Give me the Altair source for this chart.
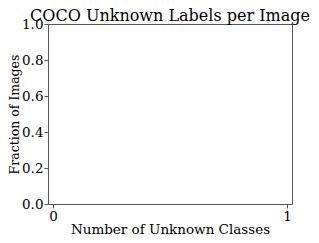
import altair as alt
import pandas as pd

title = "COCO Unknown Labels per Image"
x_title = "Number of Unknown Classes"
y_title = "Fraction of Images"
x_ticks = [0, 1]
y_ticks = [0.0, 0.2, 0.4, 0.6, 0.8, 1.0]
counts = []
fractions = []

df = pd.DataFrame({"n": pd.Series(counts, dtype=float), "f": pd.Series(fractions, dtype=float)})

font = "DejaVu Serif"

chart = alt.Chart(df).mark_bar(color="#1f77b4").encode(
    x=alt.X("n:Q", scale=alt.Scale(domain=[0, 1], nice=False, zero=False),
            axis=alt.Axis(title=x_title, values=x_ticks, format="d", grid=False,
                          labelFontSize=13.5, titleFontSize=13.5, titleFontWeight="normal",
                          labelFont=font, titleFont=font, tickSize=4, labelPadding=1,
                          titlePadding=0, domainColor="#555", tickColor="#555",
                          labelColor="black", titleColor="black", labelFlush=False)),
    y=alt.Y("f:Q", scale=alt.Scale(domain=[0, 1], nice=False),
            axis=alt.Axis(title=y_title, values=y_ticks, format=".1f", grid=False,
                          labelFontSize=13.5, titleFontSize=12.5, titleFontWeight="normal",
                          labelFont=font, titleFont=font, tickSize=4, labelPadding=1,
                          titlePadding=0, domainColor="#555", tickColor="#555",
                          labelColor="black", titleColor="black", labelFlush=False)),
).properties(
    width=244, height=180,
    title=alt.TitleParams(title, font=font, fontSize=16, fontWeight="normal",
                          color="black", anchor="middle", offset=-7, frame="group"),
    autosize=alt.AutoSizeParams(type="none"),
    padding={"left": 40, "top": 16, "right": 19, "bottom": 31},
).configure_view(stroke="#555", strokeWidth=1)

chart.save("out.html", embed_options={"renderer": "svg", "actions": False})
